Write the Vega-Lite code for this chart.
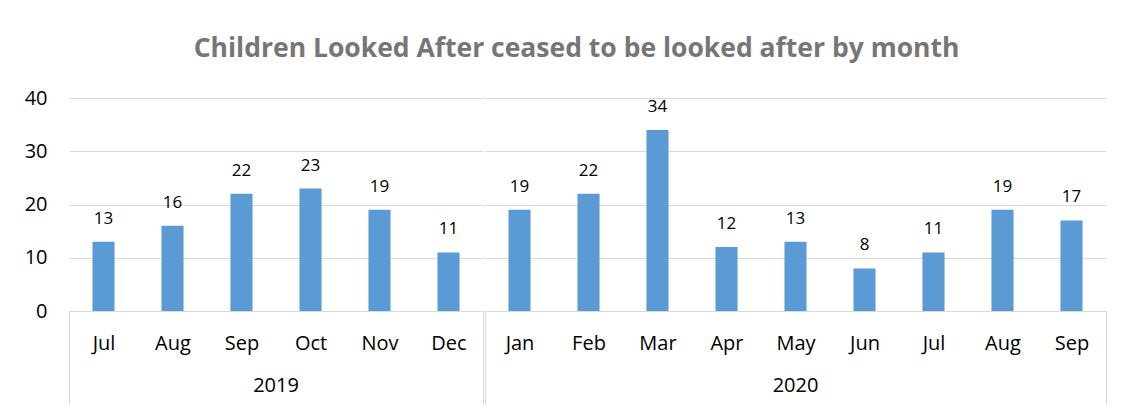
{
  "$schema": "https://vega.github.io/schema/vega-lite/v6.json",
  "padding": {"left": 24, "top": 35, "right": 22, "bottom": 2},
  "title": {"text": "Children Looked After ceased to be looked after by month", "fontSize": 26.5, "font": "Open Sans", "fontWeight": "bold", "color": "#767676", "anchor": "middle", "offset": 26, "dx": 11},
  "data": {"values": [
    {"year": "2019", "key": "2019-Jul", "value": 13},
    {"year": "2019", "key": "2019-Aug", "value": 16},
    {"year": "2019", "key": "2019-Sep", "value": 22},
    {"year": "2019", "key": "2019-Oct", "value": 23},
    {"year": "2019", "key": "2019-Nov", "value": 19},
    {"year": "2019", "key": "2019-Dec", "value": 11},
    {"year": "2020", "key": "2020-Jan", "value": 19},
    {"year": "2020", "key": "2020-Feb", "value": 22},
    {"year": "2020", "key": "2020-Mar", "value": 34},
    {"year": "2020", "key": "2020-Apr", "value": 12},
    {"year": "2020", "key": "2020-May", "value": 13},
    {"year": "2020", "key": "2020-Jun", "value": 8},
    {"year": "2020", "key": "2020-Jul", "value": 11},
    {"year": "2020", "key": "2020-Aug", "value": 19},
    {"year": "2020", "key": "2020-Sep", "value": 17}
  ]},
  "facet": {"column": {"field": "year", "type": "ordinal", "title": null, "header": {"labelOrient": "bottom", "labelFontSize": 20, "labelFont": "Open Sans", "labelColor": "black", "labelPadding": -29}}},
  "spacing": 0,
  "resolve": {"scale": {"x": "independent"}},
  "spec": {
    "width": {"step": 69},
    "height": 213,
    "encoding": {
      "x": {"field": "key", "type": "ordinal", "sort": null, "title": null,
        "scale": {"paddingInner": 0, "paddingOuter": 0},
        "axis": {"labelExpr": "split(datum.value,'-')[1]", "labelAngle": 0, "labelFontSize": 20, "labelFont": "Open Sans", "labelColor": "black",
          "domainColor": "#d9d9d9", "tickBand": "extent", "tickSize": 93, "tickColor": "#d9d9d9",
          "tickOpacity": {"condition": {"test": "datum.index >= 1 || datum.extra", "value": 1}, "value": 0},
          "labelPadding": -71, "grid": false}},
      "y": {"field": "value", "type": "quantitative", "scale": {"domain": [0, 40]}, "title": null,
        "axis": {"values": [0, 10, 20, 30, 40], "domain": false, "ticks": false, "labelPadding": 21, "gridColor": "#d9d9d9", "labelFontSize": 20, "labelColor": "black", "labelFont": "Open Sans"}}
    },
    "layer": [
      {"mark": {"type": "bar", "color": "#5B9BD5", "width": {"band": 0.32}}},
      {"mark": {"type": "text", "baseline": "bottom", "dy": -14, "fontSize": 17, "font": "Open Sans", "color": "black"}, "encoding": {"text": {"field": "value", "type": "quantitative"}}}
    ]
  },
  "config": {"view": {"stroke": "transparent"}, "style": {"cell": {"stroke": "transparent"}}, "axisY": {"domain": false, "ticks": false}}
}
